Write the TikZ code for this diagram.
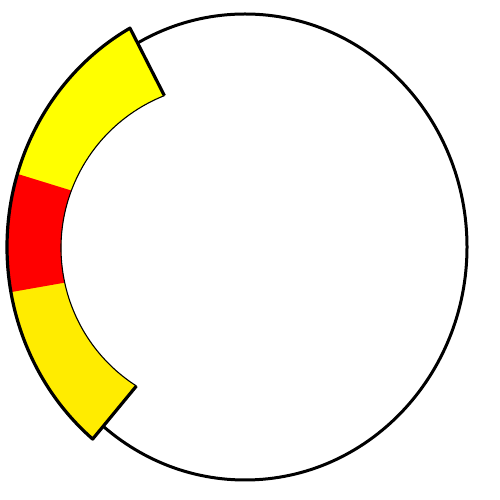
\documentclass[tikz,border=0pt]{standalone}
\definecolor{yellowA}{RGB}{255,255,0}
\definecolor{yellowB}{RGB}{255,236,0}
\definecolor{redA}{RGB}{255,0,0}
\tikzset{
  ring/.style={draw=black, line width=3pt},
  bandedge/.style={draw=black, line width=3.2pt, line join=round},
  inneredge/.style={draw=black, line width=1.1pt},
}
\begin{document}
\begin{tikzpicture}[x=1pt,y=1pt]
\useasboundingbox (0,0) rectangle (500,500);
\coordinate (C) at (245,253);
\coordinate (I) at (225,252);
% outer band points (ellipse about C)
\path (C) ++(118.9:238pt and 250pt) coordinate (o1);
\path (C) ++(163:238pt and 250pt) coordinate (o2);
\path (C) ++(190.4:238pt and 250pt) coordinate (o3);
\path (C) ++(230.2:238pt and 250pt) coordinate (o4);
% inner band points (circle about I)
\path (I) ++(111.7:164pt) coordinate (i1);
\path (I) ++(159.5:164pt) coordinate (i2);
\path (I) ++(192.2:164pt) coordinate (i3);
\path (I) ++(237.3:164pt) coordinate (i4);
% big ring
\draw[ring] (C) ellipse[x radius=222pt, y radius=233pt];
% band fills
\fill[yellowB] (o1) arc[start angle=118.9, end angle=230.2, x radius=238pt, y radius=250pt]
  -- (i4) arc[start angle=237.3, end angle=111.7, radius=164pt] -- cycle;
\fill[yellowA] (o1) arc[start angle=118.9, end angle=163, x radius=238pt, y radius=250pt]
  -- (i2) arc[start angle=159.5, end angle=111.7, radius=164pt] -- cycle;
\fill[redA] (o2) arc[start angle=163, end angle=190.4, x radius=238pt, y radius=250pt]
  -- (i3) arc[start angle=192.2, end angle=159.5, radius=164pt] -- cycle;
% band outlines
\draw[inneredge] (i4) arc[start angle=237.3, end angle=111.7, radius=164pt];
\draw[bandedge] (i1) -- (o1) arc[start angle=118.9, end angle=230.2, x radius=238pt, y radius=250pt] -- (i4);
\end{tikzpicture}
\end{document}
